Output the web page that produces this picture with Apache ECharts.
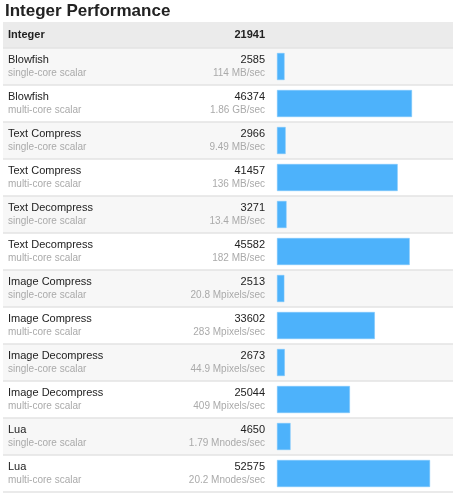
<!DOCTYPE html>
<html>
<head>
<meta charset="utf-8">
<script src="https://cdn.jsdelivr.net/npm/echarts@6/dist/echarts.min.js"></script>
<style>
  html, body { margin: 0; padding: 0; background: #fff; }
  #main { width: 453px; height: 500px; }
</style>
</head>
<body>
<div id="main"></div>
<script type="text/javascript">
    // 数据
    var headerName = 'Integer';
    var headerScore = 21941;
    var names = ['Blowfish', 'Blowfish', 'Text Compress', 'Text Compress', 'Text Decompress', 'Text Decompress',
        'Image Compress', 'Image Compress', 'Image Decompress', 'Image Decompress', 'Lua', 'Lua'];
    var modes = ['single-core scalar', 'multi-core scalar', 'single-core scalar', 'multi-core scalar',
        'single-core scalar', 'multi-core scalar', 'single-core scalar', 'multi-core scalar',
        'single-core scalar', 'multi-core scalar', 'single-core scalar', 'multi-core scalar'];
    var scores = [2585, 46374, 2966, 41457, 3271, 45582, 2513, 33602, 2673, 25044, 4650, 52575];
    var rates = ['114 MB/sec', '1.86 GB/sec', '9.49 MB/sec', '136 MB/sec', '13.4 MB/sec', '182 MB/sec',
        '20.8 Mpixels/sec', '283 Mpixels/sec', '44.9 Mpixels/sec', '409 Mpixels/sec',
        '1.79 Mnodes/sec', '20.2 Mnodes/sec'];

    var cats = names.map(function (n, i) { return n + ' / ' + modes[i]; });
    var font = '"Liberation Sans", Arial, sans-serif';

    var myChart = echarts.init(document.getElementById('main'));

    var option = {
        animation: false,
        textStyle: { fontFamily: font },
        title: {
            text: 'Integer Performance',
            left: 0,
            top: 0,
            padding: [3, 5],
            textStyle: { fontSize: 17, fontWeight: 'bold', color: '#222', fontFamily: font }
        },
        graphic: [
            { type: 'rect', left: 3, top: 22, shape: { width: 450, height: 26 }, style: { fill: '#ebebeb' }, z: -1 },
            { type: 'text', left: 8, top: 29, style: { text: headerName, font: 'bold 11px ' + font, fill: '#222' } },
            { type: 'text', right: 188, top: 29, style: { text: String(headerScore), font: 'bold 11px ' + font, fill: '#222' } }
        ],
        grid: [
            { left: 3, right: 0, top: 48, height: 444 },
            { left: 277, right: 13, top: 48, height: 444 }
        ],
        xAxis: [
            { type: 'value', gridIndex: 0, show: false },
            { type: 'value', gridIndex: 1, min: 0, max: 56000, show: false }
        ],
        yAxis: [{
            type: 'category',
            gridIndex: 0,
            inverse: true,
            data: cats,
            axisLine: { show: false },
            axisTick: { show: false },
            splitArea: { show: true, areaStyle: { color: ['#f7f7f7', '#ffffff'] } },
            splitLine: { show: true, interval: 0, lineStyle: { color: '#e3e3e3', width: 1.5 } },
            axisLabel: {
                inside: true,
                margin: 5,
                interval: 0,
                formatter: function (v, i) {
                    return '{n|' + names[i] + '}\n{m|' + modes[i] + '}';
                },
                rich: {
                    n: { fontSize: 11, color: '#222', lineHeight: 12.5, fontFamily: font },
                    m: { fontSize: 10, color: '#aaa', lineHeight: 12.5, fontFamily: font }
                }
            }
        }, {
            type: 'category',
            gridIndex: 1,
            inverse: true,
            data: cats,
            axisLine: { show: false },
            axisTick: { show: false },
            axisLabel: {
                margin: 12,
                interval: 0,
                align: 'right',
                formatter: function (v, i) {
                    return '{s|' + scores[i] + '}\n{r|' + rates[i] + '}';
                },
                rich: {
                    s: { fontSize: 11, color: '#222', lineHeight: 12.5, align: 'right', fontFamily: font },
                    r: { fontSize: 10, color: '#aaa', lineHeight: 12.5, align: 'right', fontFamily: font }
                }
            }
        }],
        series: [{
            type: 'bar',
            xAxisIndex: 1,
            yAxisIndex: 1,
            data: scores,
            barWidth: 27,
            itemStyle: { color: '#4db2fb', borderColor: '#7cc6fb', borderWidth: 0.5 }
        }]
    };
    myChart.setOption(option);
</script>
</body>
</html>
